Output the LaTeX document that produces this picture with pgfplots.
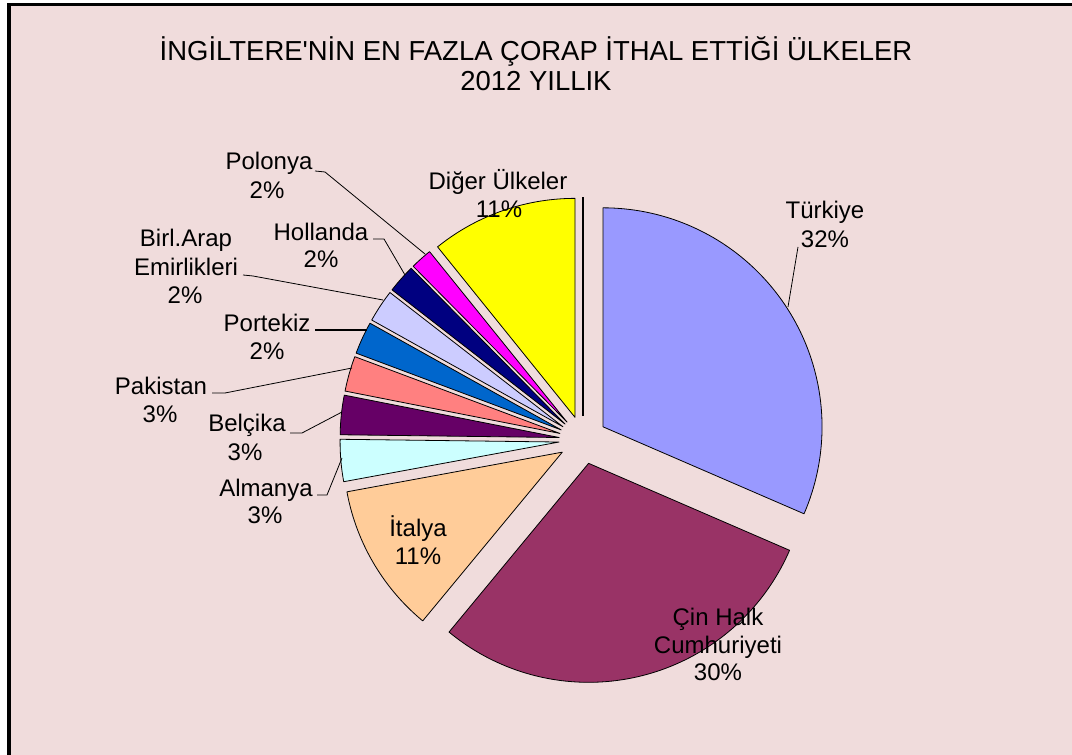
\documentclass[border=0pt]{standalone}
\usepackage{pgfplots}
\pgfplotsset{compat=1.18}
\usepackage{pgfplotstable}
\usepackage{fontspec}
\setmainfont{Liberation Sans}[Ligatures=TeXOff]

\definecolor{bg}{HTML}{F0DCDC}
\definecolor{c0}{HTML}{9999FF}
\definecolor{c1}{HTML}{993366}
\definecolor{c2}{HTML}{FFCC99}
\definecolor{c3}{HTML}{CCFFFF}
\definecolor{c4}{HTML}{660066}
\definecolor{c5}{HTML}{FF8080}
\definecolor{c6}{HTML}{0066CC}
\definecolor{c7}{HTML}{CCCCFF}
\definecolor{c8}{HTML}{000080}
\definecolor{c9}{HTML}{FF00FF}
\definecolor{c10}{HTML}{FFFF00}

\pgfplotstableread{
name pct
Turkiye 31.5
Cin 29.5
Italya 11.1
Almanya 3.1
Belcika 2.9
Pakistan 2.6
Portekiz 2.4
BAE 2.4
Hollanda 2.1
Polonya 1.6
Diger 10.8
}\pietable

\newcommand\lab{\fontsize{18}{21}\selectfont}
\newcommand\ttl{\fontsize{20.6}{22}\selectfont}
\newcommand\lb[3]{\node[anchor=base, inner sep=0pt, font=\lab] at (axis cs:#1,#2) {#3};}

\begin{document}
\begin{tikzpicture}
\useasboundingbox (0,0) rectangle (804pt,566.25pt);
\fill[white] (0,0) rectangle (804pt,566.25pt);
\fill[bg] (8.25pt,0) rectangle (804pt,561.75pt);
\fill[black] (5.25pt,0) rectangle (8.25pt,564pt);
\fill[black] (5.25pt,561.75pt) rectangle (804pt,564pt);
\begin{axis}[at={(0,0)}, anchor=south west, x=0.75pt, y=0.75pt,
  xmin=0, xmax=1072, ymin=0, ymax=755, y dir=reverse,
  hide axis, clip=false]
\def\cum{0}
\pgfplotsforeachungrouped \i in {0,...,10}{%
  \pgfplotstablegetelem{\i}{pct}\of\pietable
  \pgfmathsetmacro\aS{90-3.6*\cum}%
  \pgfmathsetmacro\cumnew{\cum+\pgfplotsretval}%
  \pgfmathsetmacro\aE{90-3.6*\cumnew}%
  \xdef\cum{\cumnew}%
  \pgfmathsetmacro\aM{(\aS+\aE)/2}%
  \pgfmathsetmacro\px{583+24*cos(\aM)}%
  \pgfmathsetmacro\py{440-24*sin(\aM)}%
  \edef\doslice{\noexpand\addplot[fill=c\i, draw=black, line width=0.6pt, line join=round, domain=\aE:\aS, samples=80, variable=\noexpand\t] ({\px+219*cos(\noexpand\t)},{\py-219*sin(\noexpand\t)}) -- (axis cs:\px,\py) -- cycle;}%
  \doslice
}
% zero-width slice at the top
\addplot[black, line width=1.8pt] coordinates {(583,416) (583,197)};

% leader lines
\addplot[black, line width=0.6pt] coordinates {(798,247) (788,307)};
\addplot[black, line width=0.6pt] coordinates {(315,171) (325,172) (425,254)};
\addplot[black, line width=0.6pt] coordinates {(373,239) (384,239) (405,275)};
\addplot[black, line width=0.6pt] coordinates {(243,275) (253,276) (383,300)};
\addplot[black, line width=1.5pt] coordinates {(315,330) (367,330)};
\addplot[black, line width=0.6pt] coordinates {(212,393) (225,393) (352,368)};
\addplot[black, line width=0.6pt] coordinates {(290,433) (302,433) (342,412)};
\addplot[black, line width=0.6pt] coordinates {(317,495) (327,495) (342,458)};

% title
\node[anchor=base, inner sep=0pt, font=\ttl] at (axis cs:536,61) {İNGİLTERE'NİN EN FAZLA ÇORAP İTHAL ETTİĞİ ÜLKELER};
\node[anchor=base, inner sep=0pt, font=\ttl] at (axis cs:536,91) {2012 YILLIK};

% labels
\lb{825}{219}{Türkiye}
\lb{825}{248}{32\%}
\lb{718}{626}{Çin Halk}
\lb{718}{654}{Cumhuriyeti}
\lb{718}{681}{30\%}
\lb{418}{537}{İtalya}
\lb{418}{565}{11\%}
\lb{266}{497}{Almanya}
\lb{265}{524}{3\%}
\lb{247}{432}{Belçika}
\lb{245}{461}{3\%}
\lb{161}{395}{Pakistan}
\lb{160}{423}{3\%}
\lb{267}{332}{Portekiz}
\lb{267}{360}{2\%}
\lb{186}{247}{Birl.Arap}
\lb{186}{276}{Emirlikleri}
\lb{185}{304}{2\%}
\lb{321}{241}{Hollanda}
\lb{321}{268}{2\%}
\lb{269}{170}{Polonya}
\lb{267}{199}{2\%}
\lb{498}{190}{Diğer Ülkeler}
\lb{499}{218}{11\%}
\end{axis}
\end{tikzpicture}
\end{document}
